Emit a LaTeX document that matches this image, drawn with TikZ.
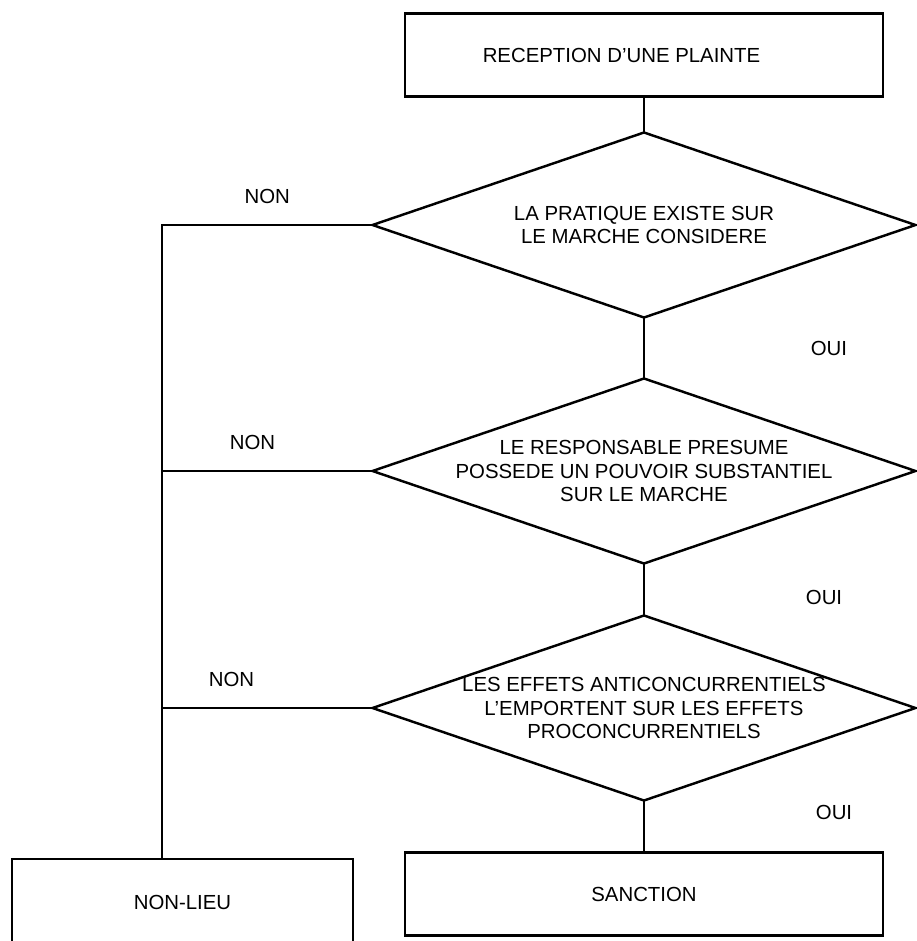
\documentclass[tikz,border=0pt]{standalone}
\usepackage{fontspec}
\setmainfont{Liberation Sans}
\usetikzlibrary{positioning,shapes.geometric}

\begin{document}
\begin{tikzpicture}[line width=1.4pt,
  every node/.style={font=\fontsize{11.6}{13.6}\selectfont},
  box/.style={rectangle,draw,outer sep=0pt,minimum width=9.55cm,minimum height=1.66cm},
  decision/.style={diamond,draw,outer sep=0pt,minimum width=10.86cm,minimum height=3.7cm,inner sep=0pt},
  answer/.style={inner sep=0pt}]
  \useasboundingbox (0,0) rectangle (18.32,-18.82);
  \node[box] (reception) at (12.88,-1.1) {RECEPTION D’UNE PLAINTE\hspace*{0.9cm}};
  \node[decision,below=0.72cm of reception,
    label={[align=center]center:LA PRATIQUE EXISTE SUR\\LE MARCHE CONSIDERE}] (pratique) {};
  \node[decision,below=1.22cm of pratique,
    label={[align=center]center:LE RESPONSABLE PRESUME\\POSSEDE UN POUVOIR SUBSTANTIEL\\SUR LE MARCHE}] (pouvoir) {};
  \node[decision,below=1.04cm of pouvoir,
    label={[align=center]center:LES EFFETS ANTICONCURRENTIELS\\L’EMPORTENT SUR LES EFFETS\\PROCONCURRENTIELS}] (effets) {};
  \node[box,below=1.04cm of effets] (sanction) {SANCTION};
  \node[box,minimum width=6.82cm,minimum height=1.72cm] (nonlieu) at (3.65,-18.04) {NON-LIEU};
  \coordinate[left=0.41cm of nonlieu.north] (rail);

  % oui: down the middle
  \draw (reception) -- (pratique);
  \draw (pratique) -- node[answer,xshift=3.7cm] {OUI} (pouvoir);
  \draw (pouvoir) -- node[answer,pos=0.66,xshift=3.6cm] {OUI} (effets);
  \draw (effets) -- node[answer,pos=0.23,xshift=3.8cm] {OUI} (sanction);

  % non: to the left
  \draw (pratique.west) -- node[answer,above=0.4cm] {NON} (pratique.west -| rail) -- (rail);
  \draw (pouvoir.west) -- node[answer,pos=0.57,above=0.4cm] {NON} (pouvoir.west -| rail);
  \draw (effets.west) -- node[answer,pos=0.67,above=0.4cm] {NON} (effets.west -| rail);
\end{tikzpicture}
\end{document}
